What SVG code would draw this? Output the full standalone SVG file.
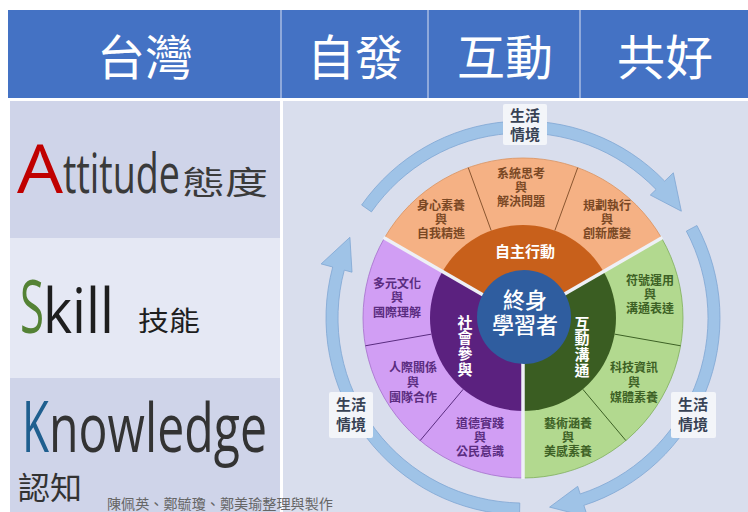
<svg xmlns="http://www.w3.org/2000/svg" width="748" height="512" viewBox="0 0 748 512">
<style>
.hd{font-family:"Noto Sans CJK TC","Noto Sans",sans-serif;font-size:48px;fill:#ffffff;text-anchor:middle}
.lat{font-family:"Open Sans","Noto Sans",sans-serif}
.cjk{font-family:"Noto Sans CJK TC",sans-serif}
.sub{font-family:"Noto Sans CJK TC",sans-serif;font-size:12px;font-weight:700;text-anchor:middle}
.so{fill:#7a4824}
.sg{fill:#3d6125}
.sp{fill:#5a2c80}
.ring{font-family:"Noto Sans CJK TC",sans-serif;font-size:15px;font-weight:700;fill:#ffffff;text-anchor:middle}
.ctr{font-family:"Noto Sans CJK TC",sans-serif;font-size:22px;font-weight:500;fill:#ffffff;text-anchor:middle}
.lb{font-family:"Noto Sans CJK TC",sans-serif;font-size:15px;font-weight:700;fill:#384254;text-anchor:middle}
.lbbox{fill:#f3f5f9}
.arr{fill:#9fc3e7;stroke:#7fa6d3;stroke-width:0.8}
.div{stroke-width:1;fill:none}
</style>
<rect x="0" y="0" width="748" height="512" fill="#ffffff"/>
<g id="header">
<rect x="8" y="10" width="740" height="88" fill="#4472c4"/>
<line x1="281" y1="10" x2="281" y2="98" stroke="#a8bce3" stroke-width="1.5"/>
<line x1="428" y1="10" x2="428" y2="98" stroke="#a8bce3" stroke-width="1.5"/>
<line x1="580" y1="10" x2="580" y2="98" stroke="#a8bce3" stroke-width="1.5"/>
<text class="hd" x="145" y="75">台灣</text>
<text class="hd" x="355" y="75">自發</text>
<text class="hd" x="505" y="75">互動</text>
<text class="hd" x="665" y="75">共好</text>
</g>
<g id="row-attitude">
<rect x="10" y="101" width="270" height="137" fill="#cfd4e9"/>
<text class="lat" x="17" y="193" font-size="67" fill="#c00000" textLength="46" lengthAdjust="spacingAndGlyphs">A</text>
<text class="lat" x="63" y="193" font-size="54" fill="#3a3a3a" textLength="117" lengthAdjust="spacingAndGlyphs">ttitude</text>
<text class="cjk" x="182" y="194" font-size="32" fill="#3a3a3a" textLength="86" lengthAdjust="spacingAndGlyphs">態度</text>
</g>
<g id="row-skill">
<rect x="10" y="238" width="270" height="140" fill="#e5e8f4"/>
<text class="lat" x="20" y="333" font-size="74" fill="#548235" textLength="24" lengthAdjust="spacingAndGlyphs">S</text>
<text class="lat" x="43" y="333" font-size="63" fill="#1e1e1e" textLength="71" lengthAdjust="spacingAndGlyphs">kill</text>
<text class="cjk" x="138" y="331" font-size="27" fill="#1e1e1e" textLength="62" lengthAdjust="spacingAndGlyphs">技能</text>
</g>
<g id="row-knowledge">
<rect x="10" y="378" width="270" height="134" fill="#cfd4e9"/>
<text class="lat" x="22" y="452" font-size="72" fill="#1f5f8f" textLength="27" lengthAdjust="spacingAndGlyphs">K</text>
<text class="lat" x="49" y="452" font-size="68" fill="#333333" textLength="218" lengthAdjust="spacingAndGlyphs">nowledge</text>
<text class="cjk" x="18" y="499" font-size="31" fill="#333333" textLength="64" lengthAdjust="spacingAndGlyphs">認知</text>
</g>
<rect x="283" y="101" width="465" height="411" fill="#d9deed"/>
<g id="credit">
<text class="cjk" x="107" y="509" font-size="14" fill="#666666" textLength="226" lengthAdjust="spacingAndGlyphs">陳佩英、鄭毓瓊、鄭美瑜整理與製作</text>
</g>
<g id="connectors">
<path class="arr" d="M361.62,205.0 A197,197 0 0 1 664.70,181.14 L673.33,172.81 L681.34,211.19 L650.32,195.04 L656.07,189.48 A185,185 0 0 0 371.45,211.88 Z"/>
<path class="arr" d="M696.93,225.51 A197,197 0 0 1 583.87,505.37 L587.58,516.78 L549.59,507.14 L577.69,486.34 L580.17,493.95 A185,185 0 0 0 686.34,231.14 Z"/>
<path class="arr" d="M519.56,514.97 A197,197 0 0 1 332.71,267.01 L321.12,263.91 L349.90,237.28 L352.03,272.19 L344.30,270.12 A185,185 0 0 0 519.77,502.97 Z"/>
</g>
<g id="ring-outer">
<path d="M523,318 L384.44,238 A160,160 0 0 1 661.56,238 Z" fill="#f5b184" stroke="#d9925e" stroke-width="0.8"/>
<path d="M523,318 L661.56,238 A160,160 0 0 1 523,478 Z" fill="#b2d98f" stroke="#7fae5c" stroke-width="0.8"/>
<path d="M523,318 L523,478 A160,160 0 0 1 384.44,238 Z" fill="#d19ef4" stroke="#a56fcc" stroke-width="0.8"/>
<line class="div" x1="491.19" y1="230.61" x2="468.28" y2="167.65" stroke="#8a5630"/>
<line class="div" x1="554.81" y1="230.61" x2="577.72" y2="167.65" stroke="#8a5630"/>
<line class="div" x1="614.59" y1="334.14" x2="680.57" y2="345.78" stroke="#3d6125"/>
<line class="div" x1="582.78" y1="389.24" x2="625.85" y2="440.56" stroke="#3d6125"/>
<line class="div" x1="463.22" y1="389.24" x2="420.15" y2="440.56" stroke="#5a2c80"/>
<line class="div" x1="431.41" y1="334.14" x2="365.43" y2="345.78" stroke="#5a2c80"/>
</g>
<g id="ring-inner">
<path d="M523,318 L442.46,271.5 A93,93 0 0 1 603.54,271.5 Z" fill="#c8601b"/>
<path d="M523,318 L603.54,271.5 A93,93 0 0 1 523,411 Z" fill="#3a5d22"/>
<path d="M523,318 L523,411 A93,93 0 0 1 442.46,271.5 Z" fill="#5b217f"/>
</g>
<g id="separators" stroke="#eef0f6" stroke-width="3.5">
<line x1="523" y1="318" x2="383.57" y2="237.5"/>
<line x1="523" y1="318" x2="662.43" y2="237.5"/>
<line x1="523" y1="318" x2="523" y2="479"/>
</g>
<g id="center">
<circle cx="524" cy="317" r="47" fill="#2f5d9f"/>
<text class="ctr" x="525" y="308">終身</text>
<text class="ctr" x="525" y="333">學習者</text>
</g>
<g id="node-autonomy">
<text class="ring" x="525" y="257" font-size="16">自主行動</text>
</g>
<g id="node-social">
<text class="ring"><tspan x="465" y="327.7">社</tspan><tspan x="465" y="342.7">會</tspan><tspan x="465" y="358.7">參</tspan><tspan x="465" y="374.7">與</tspan></text>
</g>
<g id="node-communication">
<text class="ring"><tspan x="582" y="328.7">互</tspan><tspan x="582" y="343.7">動</tspan><tspan x="582" y="359.7">溝</tspan><tspan x="582" y="375.7">通</tspan></text>
</g>
<g id="node-o1"><text class="sub so"><tspan x="441" y="209.5">身心素養</tspan><tspan x="441" y="223.5">與</tspan><tspan x="441" y="237.5">自我精進</tspan></text></g>
<g id="node-o2"><text class="sub so"><tspan x="521" y="177.5">系統思考</tspan><tspan x="521" y="191.5">與</tspan><tspan x="521" y="205.5">解決問題</tspan></text></g>
<g id="node-o3"><text class="sub so"><tspan x="607" y="209.5">規劃執行</tspan><tspan x="607" y="223.5">與</tspan><tspan x="607" y="237.5">創新應變</tspan></text></g>
<g id="node-g1"><text class="sub sg"><tspan x="650" y="284.5">符號運用</tspan><tspan x="650" y="298.5">與</tspan><tspan x="650" y="312.5">溝通表達</tspan></text></g>
<g id="node-g2"><text class="sub sg"><tspan x="634" y="371.5">科技資訊</tspan><tspan x="634" y="386.5">與</tspan><tspan x="634" y="401.5">媒體素養</tspan></text></g>
<g id="node-g3"><text class="sub sg"><tspan x="568" y="427.5">藝術涵養</tspan><tspan x="568" y="441.5">與</tspan><tspan x="568" y="455.5">美感素養</tspan></text></g>
<g id="node-p1"><text class="sub sp"><tspan x="480" y="427.5">道德實踐</tspan><tspan x="480" y="441.5">與</tspan><tspan x="480" y="455.5">公民意識</tspan></text></g>
<g id="node-p2"><text class="sub sp"><tspan x="413" y="371.5">人際關係</tspan><tspan x="413" y="386.5">與</tspan><tspan x="413" y="401.5">團隊合作</tspan></text></g>
<g id="node-p3"><text class="sub sp"><tspan x="397" y="287.5">多元文化</tspan><tspan x="397" y="301.5">與</tspan><tspan x="397" y="316.5">國際理解</tspan></text></g>
<g id="label-top">
<rect class="lbbox" x="503" y="104" width="44" height="41" rx="2"/>
<text class="lb"><tspan x="525" y="120.7">生活</tspan><tspan x="525" y="139.7">情境</tspan></text>
</g>
<g id="label-left">
<rect class="lbbox" x="329" y="392" width="44" height="46" rx="2"/>
<text class="lb"><tspan x="351" y="409.7">生活</tspan><tspan x="351" y="429.7">情境</tspan></text>
</g>
<g id="label-right">
<rect class="lbbox" x="671" y="392" width="45" height="46" rx="2"/>
<text class="lb"><tspan x="693" y="409.7">生活</tspan><tspan x="693" y="429.7">情境</tspan></text>
</g>
</svg>
